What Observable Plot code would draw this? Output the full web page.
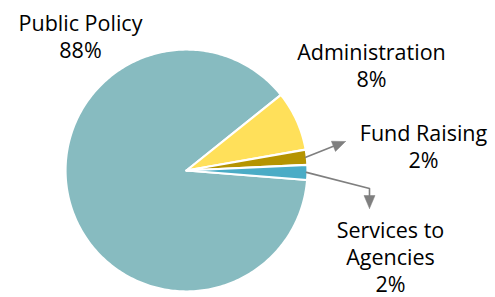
<!DOCTYPE html>
<html><head><meta charset="utf-8">
<script src="https://cdn.jsdelivr.net/npm/d3@7"></script>
<script src="https://cdn.jsdelivr.net/npm/@observablehq/plot@0.6"></script>
<style>html,body{margin:0;padding:0;background:#fff}</style>
</head><body><div id="chart"></div>
<script>
const categories = ["Public Policy", "Administration", "Fund Raising", "Services to Agencies"];
const values = [88, 8, 2, 2];
const labels = ["Public Policy\n88%", "Administration\n8%", "Fund Raising\n2%", "Services to\nAgencies\n2%"];
const colors = ["#87bbc0", "#ffe05a", "#b59400", "#4bacc6"];

// layout
const W = 495, H = 297, cx = 186, cy = 170, R = 121;
const rad = Math.PI / 180;
const start = 94.5 * rad;
const labelPos = [[80, 57], [371, 86], [423, 167], [390, 291]];
const fundEnd = [[345, 141]];
const servEnd = [[369, 188], [369, 208]];

const arcs = d3.pie().sort(null).value(d => d).startAngle(start).endAngle(start + 2 * Math.PI)(values);
const pt = (t, r) => ({x: cx + r * Math.sin(t), y: cy - r * Math.cos(t)});
const slices = arcs.map((a, i) => {
  const pts = [{x: cx, y: cy}];
  const n = Math.max(4, Math.ceil((a.endAngle - a.startAngle) / rad));
  for (let k = 0; k <= n; k++) pts.push(pt(a.startAngle + (a.endAngle - a.startAngle) * k / n, R));
  pts.push({x: cx, y: cy});
  return {pts, color: colors[i]};
});
const mid = a => (a.startAngle + a.endAngle) / 2;
const fundLine = [pt(mid(arcs[2]), R - 1), ...fundEnd.map(([x, y]) => ({x, y}))];
const servLine = [pt(mid(arcs[3]), R - 1), ...servEnd.map(([x, y]) => ({x, y}))];

function arrow(line, len = 13, hw = 5.5) {
  const p = line[line.length - 1], q = line[line.length - 2];
  const dx = p.x - q.x, dy = p.y - q.y, L = Math.hypot(dx, dy);
  const ux = dx / L, uy = dy / L;
  const bx = p.x - ux * len, by = p.y - uy * len;
  const shaft = line.slice(0, -1).concat([{x: bx, y: by}]);
  const head = [p, {x: bx - uy * hw, y: by + ux * hw}, {x: bx + uy * hw, y: by - ux * hw}, p];
  return {shaft, head};
}
const a1 = arrow(fundLine), a2 = arrow(servLine);

const labelData = labels.map((t, i) => ({text: t, x: labelPos[i][0], y: labelPos[i][1]}));
const font = "'Open Sans', Lato, sans-serif";

const chart = Plot.plot({
  width: W, height: H, margin: 0,
  style: {fontFamily: font, background: "#fff"},
  x: {domain: [0, W], range: [0, W], axis: null},
  y: {domain: [0, H], range: [0, H], axis: null},
  marks: [
    ...slices.map(s => Plot.line(s.pts, {x: "x", y: "y", fill: s.color, stroke: "#fff", strokeWidth: 2.2, strokeLinejoin: "round", curve: "linear"})),
    ...[a1, a2].flatMap(a => [
      Plot.line(a.shaft, {x: "x", y: "y", stroke: "#7f7f7f", strokeWidth: 1.6, curve: "linear"}),
      Plot.line(a.head, {x: "x", y: "y", fill: "#7f7f7f", stroke: "#7f7f7f", strokeWidth: 0.5, curve: "linear"})
    ]),
    Plot.text(labelData, {x: "x", y: "y", text: "text", fontSize: 21.5, lineAnchor: "bottom", lineHeight: 1.24, fill: "#000", fontFamily: font})
  ]
});
document.getElementById("chart").appendChild(chart);
</script>
</body></html>
